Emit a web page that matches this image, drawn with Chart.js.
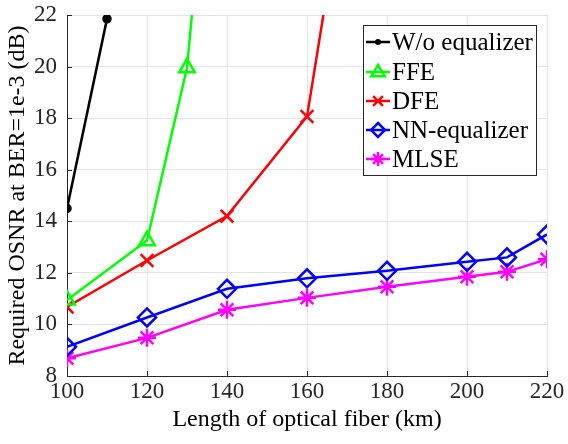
<!DOCTYPE html>
<html><head><meta charset="utf-8">
<script src="https://cdn.jsdelivr.net/npm/chart.js@4"></script>
<style>html,body{margin:0;padding:0;background:#fff}canvas{display:block}</style>
</head><body>
<canvas id="c" width="568" height="444"></canvas>
<script>
// Data
const xTicks = [100, 120, 140, 160, 180, 200, 220];
const yTicks = [8, 10, 12, 14, 16, 18, 20, 22];
const woX = [100, 110];
const woY = [14.5, 21.85];
const ffeX = [100, 120, 130, 140];
const ffeY = [10.95, 13.25, 19.95, 36.7];
const dfeX = [100, 120, 140, 160, 180];
const dfeY = [10.68, 12.48, 14.2, 18.06, 37.3];
const nnX = [100, 120, 140, 160, 180, 200, 210, 220];
const nnY = [9.13, 10.27, 11.38, 11.79, 12.08, 12.43, 12.6, 13.49];
const mlseX = [100, 120, 140, 160, 180, 200, 210, 220];
const mlseY = [8.69, 9.48, 10.57, 11.03, 11.46, 11.85, 12.04, 12.53];
const names = ['W/o equalizer', 'FFE', 'DFE', 'NN-equalizer', 'MLSE'];

const pts = (xs, ys) => xs.map((x, i) => ({x: x, y: ys[i]}));
const FONT = '"Liberation Serif", "Times New Roman", serif';

function ds(label, xs, ys, color, style, r, filled) {
  return {
    label: label, data: pts(xs, ys), borderColor: color,
    backgroundColor: filled ? color : 'rgba(0,0,0,0)',
    borderWidth: 2.5, pointStyle: style, pointRadius: r, pointHoverRadius: r,
    pointBorderWidth: 2.5, pointBorderColor: color,
    pointBackgroundColor: filled ? color : 'rgba(0,0,0,0)',
    tension: 0, fill: false
  };
}

function drawMarker(ctx, style, r, x, y, color) {
  ctx.save();
  ctx.strokeStyle = color; ctx.fillStyle = color; ctx.lineWidth = 2.5;
  ctx.beginPath();
  if (style === 'circle') {
    ctx.arc(x, y, r, 0, Math.PI * 2); ctx.fill();
  } else if (style === 'triangle') {
    ctx.moveTo(x, y - r); ctx.lineTo(x + r * 0.95, y + r * 0.6); ctx.lineTo(x - r * 0.95, y + r * 0.6); ctx.closePath(); ctx.stroke();
  } else if (style === 'crossRot') {
    const d = r * 0.7;
    ctx.moveTo(x - d, y - d); ctx.lineTo(x + d, y + d); ctx.moveTo(x + d, y - d); ctx.lineTo(x - d, y + d); ctx.stroke();
  } else if (style === 'rectRot') {
    ctx.moveTo(x, y - r); ctx.lineTo(x + r, y); ctx.lineTo(x, y + r); ctx.lineTo(x - r, y); ctx.closePath(); ctx.stroke();
  } else if (style === 'star') {
    const d = r * 0.7;
    ctx.moveTo(x, y - r); ctx.lineTo(x, y + r); ctx.moveTo(x - r, y); ctx.lineTo(x + r, y);
    ctx.moveTo(x - d, y - d); ctx.lineTo(x + d, y + d); ctx.moveTo(x + d, y - d); ctx.lineTo(x - d, y + d); ctx.stroke();
  }
  ctx.restore();
}

const legendPlugin = {
  id: 'customDecor',
  afterDraw(chart) {
    const ctx = chart.ctx;
    const xs = chart.scales.x, ys = chart.scales.y;
    const a = chart.chartArea;
    // inward ticks
    ctx.save();
    ctx.strokeStyle = '#262626'; ctx.lineWidth = 1;
    xTicks.forEach(t => { const px = Math.round(xs.getPixelForValue(t)) + 0.5; ctx.beginPath(); ctx.moveTo(px, a.bottom); ctx.lineTo(px, a.bottom - 5); ctx.stroke(); });
    yTicks.forEach(t => { const py = Math.round(ys.getPixelForValue(t)) + 0.5; ctx.beginPath(); ctx.moveTo(a.left, py); ctx.lineTo(a.left + 5, py); ctx.stroke(); });
    ctx.restore();
    // legend
    const bx = 363, by = 25, bw = 173, bh = 150;
    ctx.save();
    ctx.fillStyle = '#fff'; ctx.fillRect(bx, by, bw, bh);
    ctx.strokeStyle = '#262626'; ctx.lineWidth = 1;
    ctx.strokeRect(bx + 0.5, by + 0.5, bw, bh);
    ctx.font = '25px ' + FONT; ctx.textBaseline = 'middle'; ctx.fillStyle = '#000';
    const rows = [42, 72, 101, 130, 159];
    chart.data.datasets.forEach((d, i) => {
      const y = rows[i];
      ctx.strokeStyle = d.borderColor; ctx.lineWidth = 2.5;
      ctx.beginPath(); ctx.moveTo(366, y); ctx.lineTo(390, y); ctx.stroke();
      const isFilled = d.pointStyle === 'circle';
      drawMarker(ctx, d.pointStyle, isFilled ? 3 : 7, 378, y, d.borderColor);
      ctx.fillStyle = '#000';
      ctx.fillText(names[i], 392, y + 1);
    });
    ctx.restore();
  }
};

new Chart(document.getElementById('c'), {
  type: 'line',
  data: {
    datasets: [
      ds(names[0], woX, woY, '#000000', 'circle', 3.5, true),
      ds(names[1], ffeX, ffeY, '#00ff00', 'triangle', 9, false),
      ds(names[2], dfeX, dfeY, '#ff0000', 'crossRot', 9, false),
      ds(names[3], nnX, nnY, '#0000ff', 'rectRot', 9, false),
      ds(names[4], mlseX, mlseY, '#ff00ff', 'star', 9, false)
    ]
  },
  options: {
    responsive: false, animation: false, devicePixelRatio: 1,
    layout: { padding: { top: 15, right: 21, left: 0, bottom: 0 } },
    plugins: { legend: { display: false }, tooltip: { enabled: false } },
    scales: {
      x: {
        type: 'linear', min: 100, max: 220,
        afterBuildTicks: s => { s.ticks = xTicks.map(v => ({value: v})); },
        afterFit: s => { s.height = 68; s.paddingLeft = 0; s.paddingRight = 0; },
        grid: { color: '#e3e3e3', lineWidth: 1, drawTicks: false },
        border: { color: '#262626', width: 1 },
        ticks: { font: { family: FONT, size: 23 }, color: '#262626', padding: 2, maxRotation: 0 },
        title: { display: true, text: 'Length of optical fiber (km)', font: { family: FONT, size: 24 }, color: '#000', padding: { top: 0, bottom: 10 } }
      },
      y: {
        type: 'linear', min: 8, max: 22,
        afterBuildTicks: s => { s.ticks = yTicks.map(v => ({value: v})); },
        afterFit: s => { s.width = 67; s.paddingTop = 0; s.paddingBottom = 0; },
        grid: { color: '#e3e3e3', lineWidth: 1, drawTicks: false },
        border: { color: '#262626', width: 1 },
        ticks: { font: { family: FONT, size: 23 }, color: '#262626', padding: 10 },
        title: { display: true, text: 'Required OSNR at BER=1e-3 (dB)', font: { family: FONT, size: 24 }, color: '#000', padding: { top: 3, bottom: 0 } }
      }
    }
  },
  plugins: [legendPlugin]
});
</script>
</body></html>
